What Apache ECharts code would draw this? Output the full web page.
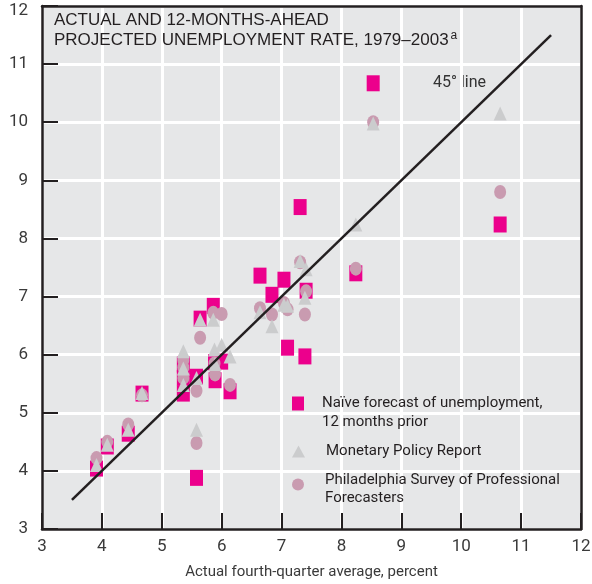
<!DOCTYPE html>
<html>
<head>
<meta charset="utf-8">
<script src="https://cdn.jsdelivr.net/npm/echarts@6/dist/echarts.min.js"></script>
<style>
  html, body { margin: 0; padding: 0; background: #fff; }
  #chart { width: 592px; height: 584px; }
</style>
</head>
<body>
<div id="chart"></div>
<script>
// one entry per year, 1979-2003
const years = [1979, 1980, 1981, 1982, 1983, 1984, 1985, 1986, 1987, 1988, 1989, 1990, 1991,
  1992, 1993, 1994, 1995, 1996, 1997, 1998, 1999, 2000, 2001, 2002, 2003];
// actual fourth-quarter average (x)
const actual = [5.88, 7.39, 8.24, 10.65, 8.53, 7.31, 7.04, 6.84, 5.86, 5.36, 5.36, 6.14, 7.1,
  7.41, 6.64, 5.64, 5.58, 5.36, 4.67, 4.44, 4.09, 3.91, 5.58, 5.89, 6.0];
// projections (y)
const naive = [5.87, 5.97, 7.4, 8.24, 10.67, 8.54, 7.29, 7.03, 6.84, 5.83, 5.33, 5.37, 6.12,
  7.1, 7.36, 6.62, 5.62, 5.6, 5.33, 4.64, 4.42, 4.04, 3.88, 5.56, 5.88];
const mpr = [6.09, 6.98, 8.24, 10.15, 9.98, 7.61, 6.86, 6.49, 6.6, 6.06, 5.48, 5.97, 6.84,
  7.47, 6.73, 6.6, 5.6, 5.76, 5.34, 4.71, 4.45, 4.1, 4.71, 5.84, 6.17];
const spf = [5.85, 6.69, 7.48, 8.8, 10.0, 7.59, 6.89, 6.69, 6.72, 5.91, 5.6, 5.48, 6.78,
  7.09, 6.8, 6.29, 5.38, 5.78, 5.3, 4.8, 4.5, 4.22, 4.48, 5.66, 6.7];
const diagonal = [[3.5, 3.5], [11.5, 11.5]];

const names = {
  naive: 'Naïve forecast of unemployment,\n12 months prior',
  mpr: 'Monetary Policy Report',
  spf: 'Philadelphia Survey of Professional\nForecasters'
};

const narrow = 'Roboto, sans-serif';
const ink = '#231f20';
const grey = '#3a3a3a';
const pts = (ys) => actual.map((x, i) => [x, ys[i]]);

const chart = echarts.init(document.getElementById('chart'));

const valueAxis = {
  type: 'value',
  min: 3,
  max: 12,
  interval: 1,
  axisLine: { show: true, onZero: false, lineStyle: { color: ink, width: 2.5 } },
  axisTick: { inside: true, length: 16, lineStyle: { color: ink, width: 2 } },
  splitLine: { show: true, lineStyle: { color: '#ffffff', width: 3 } },
  axisLabel: { color: grey, fontFamily: narrow, fontSize: 17 }
};
const frameAxis = {
  type: 'value',
  min: 3,
  max: 12,
  axisLine: { show: true, onZero: false, lineStyle: { color: ink, width: 2.5 } },
  axisTick: { show: false },
  axisLabel: { show: false },
  splitLine: { show: false }
};

const legendText = (lead, line) => ({
  fontFamily: narrow, fontSize: 15, color: ink,
  rich: {
    s: { lineHeight: lead, fontSize: 15, fontFamily: narrow },
    n: { lineHeight: line, fontSize: 15, fontFamily: narrow, color: ink }
  }
});
const legendLines = (name) => '{s|\u00a0}\n' + name.split('\n').map((t) => '{n|' + t + '}').join('\n');

const legendBase = {
  orient: 'vertical',
  left: 292,
  padding: 0,
  itemGap: 0,
  selectedMode: false
};

chart.setOption({
  animation: false,
  grid: {
    left: 42, right: 11, top: 6, bottom: 55,
    outerBoundsMode: 'none',
    show: true, backgroundColor: '#e6e7e8', borderWidth: 0
  },
  title: {
    left: 54,
    top: 10,
    padding: 0,
    text: 'ACTUAL AND 12-MONTHS-AHEAD\nPROJECTED UNEMPLOYMENT RATE, 1979–2003{sup|a}',
    textStyle: {
      fontFamily: 'Liberation Sans, Arial, sans-serif',
      fontWeight: 'normal',
      fontSize: 17,
      lineHeight: 20,
      color: ink,
      rich: {
        sup: { fontSize: 12, verticalAlign: 'top', padding: [0, 0, 8, 2], color: ink, fontFamily: 'Liberation Sans, Arial, sans-serif' }
      }
    }
  },
  legend: [
    Object.assign({}, legendBase, {
      top: 377, itemWidth: 12, itemHeight: 14,
      data: [{ name: names.naive, icon: 'rect' }],
      formatter: legendLines,
      textStyle: Object.assign(legendText(19, 19), { padding: [0, 0, 0, 13] })
    }),
    Object.assign({}, legendBase, {
      top: 442, itemWidth: 13, itemHeight: 12,
      data: [{ name: names.mpr, icon: 'triangle' }],
      textStyle: Object.assign(legendText(19, 19), { padding: [0, 0, 0, 16], lineHeight: 19 })
    }),
    Object.assign({}, legendBase, {
      top: 459, itemWidth: 12, itemHeight: 13,
      data: [{ name: names.spf, icon: 'circle' }],
      formatter: legendLines,
      textStyle: Object.assign(legendText(10, 18), { padding: [0, 0, 0, 16] })
    })
  ],
  xAxis: [
    Object.assign({}, valueAxis, {
      position: 'bottom',
      name: 'Actual fourth-quarter average, percent',
      nameLocation: 'middle',
      nameGap: 36,
      nameTextStyle: { fontFamily: narrow, fontSize: 15, color: grey },
      axisLabel: Object.assign({}, valueAxis.axisLabel, { margin: 9 })
    }),
    Object.assign({}, frameAxis, { position: 'top' })
  ],
  yAxis: [
    Object.assign({}, valueAxis, {
      position: 'left',
      axisLabel: Object.assign({}, valueAxis.axisLabel, {
        margin: 14,
        formatter: (v) => (v === 12 ? '{t|12}' : String(v)),
        rich: { t: { padding: [10, 0, 0, 0], fontFamily: narrow, fontSize: 17, color: grey } }
      })
    }),
    Object.assign({}, frameAxis, { position: 'right' })
  ],
  graphic: [
    {
      type: 'text',
      left: 433,
      top: 75,
      style: { text: '45\u00b0 line', font: '16px ' + narrow, fill: '#333' }
    }
  ],
  series: [
    {
      type: 'line',
      data: diagonal,
      symbol: 'none',
      silent: true,
      lineStyle: { color: ink, width: 2.5 }
    },
    {
      name: names.naive,
      type: 'scatter',
      symbol: 'rect',
      symbolSize: [13, 16],
      itemStyle: { color: '#ec008c', opacity: 1 },
      data: pts(naive)
    },
    {
      name: names.spf,
      type: 'scatter',
      symbol: 'circle',
      symbolSize: [12, 14],
      itemStyle: { color: '#c99bb0', opacity: 1 },
      data: pts(spf)
    },
    {
      name: names.mpr,
      type: 'scatter',
      symbol: 'triangle',
      symbolSize: [13, 14],
      itemStyle: { color: '#cbcccd', opacity: 1 },
      data: pts(mpr)
    }
  ]
});
</script>
</body>
</html>
